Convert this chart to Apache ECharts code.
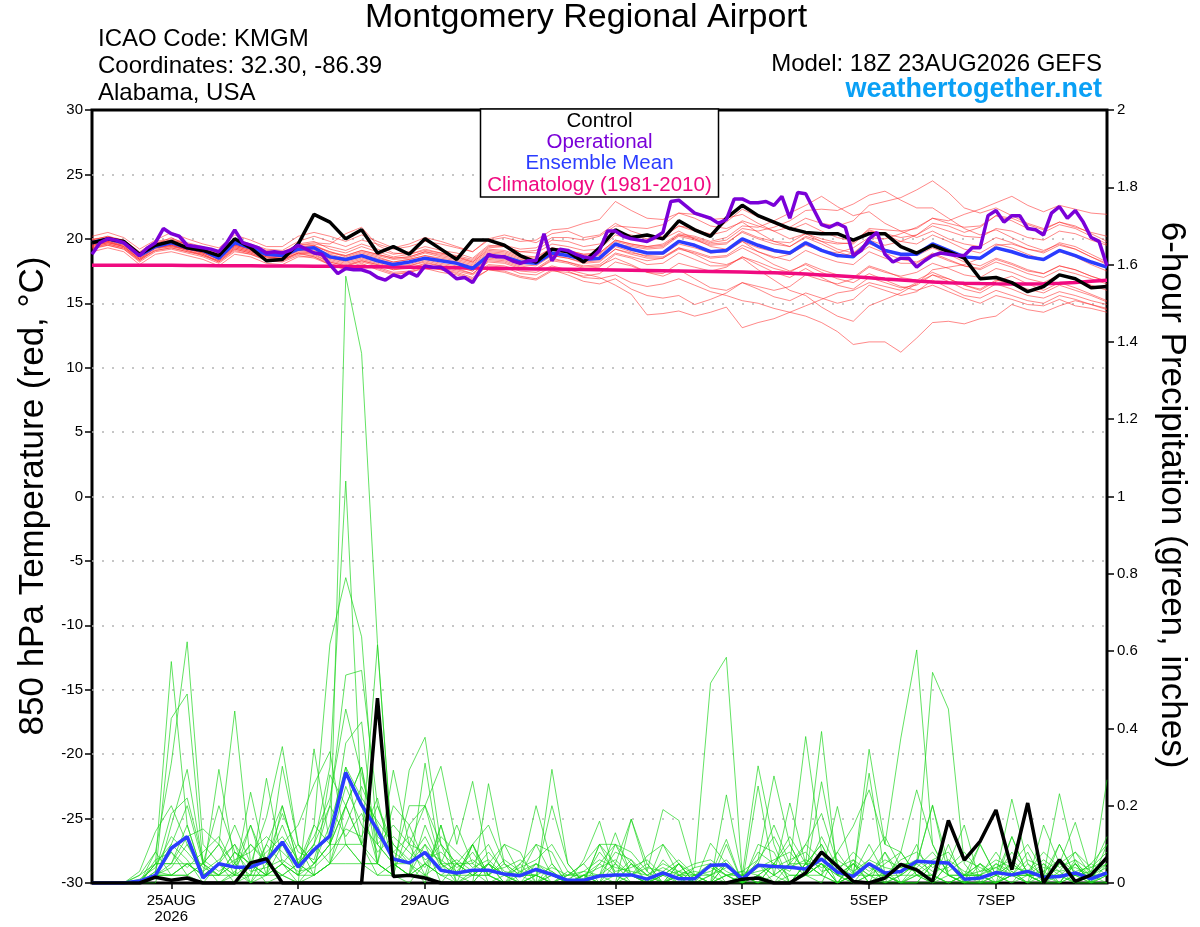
<!DOCTYPE html>
<html><head><meta charset="utf-8">
<script src="https://cdn.jsdelivr.net/npm/echarts@6/dist/echarts.min.js"></script>
<style>html,body{margin:0;padding:0;background:#fff}#c{width:1200px;height:927px}</style>
</head><body><div id="c"></div>
<script>
// ---------- axis / tick data ----------
const stepHours = 6;      // ensemble output interval
const opStepHours = 3;    // operational output interval
const xTickHours = [30, 78, 126, 198, 246, 294, 342];
const xTickLabels = ['25AUG\n2026', '27AUG', '29AUG', '1SEP', '3SEP', '5SEP', '7SEP'];

// ---------- 850 hPa temperature (deg C), 6-hourly from 18Z 23AUG ----------
const controlTemp = [19.7,20.0,19.8,18.8,19.5,19.8,19.3,19.1,18.7,20.0,
 19.3,18.3,18.4,19.6,21.9,21.3,20.0,20.7,18.9,19.4,
 18.8,20.0,19.2,18.4,19.9,19.9,19.5,18.7,18.2,19.2,
 19.0,18.2,19.3,20.7,20.1,20.3,20.0,21.4,20.7,20.2,
 21.6,22.6,21.8,21.3,20.8,20.5,20.4,20.4,19.9,20.4,
 20.4,19.4,18.9,19.5,19.0,18.5,16.9,17.0,16.6,15.9,
 16.3,17.2,16.9,16.2,16.3];
const meanTemp = [19.7,20.0,19.7,18.7,19.4,19.7,19.3,19.1,18.5,19.7,
 19.3,18.8,18.7,19.2,19.3,18.6,18.4,18.7,18.3,18.0,
 18.2,18.5,18.3,18.1,17.7,18.7,18.6,18.2,18.1,18.9,
 18.7,18.4,18.5,19.6,19.2,18.9,18.9,19.8,19.5,19.0,
 19.1,20.0,19.5,19.1,18.9,19.7,19.1,18.7,18.6,19.8,
 19.1,18.8,18.8,19.6,19.1,18.6,18.5,19.3,19.0,18.6,
 18.4,19.1,18.7,18.2,17.8];
const climoTemp = [17.95,17.95,17.95,17.95,17.94,17.94,17.93,17.93,17.92,17.92,17.91,17.9,17.9,17.89,17.88,17.87,17.86,
 17.84,17.83,17.81,17.8,17.78,17.76,17.75,17.73,17.72,17.7,17.68,17.66,17.65,17.63,17.61,17.6,
 17.58,17.56,17.54,17.52,17.5,17.48,17.46,17.44,17.42,17.39,17.36,17.32,17.27,17.2,17.13,17.05,
 16.97,16.88,16.8,16.72,16.65,16.6,16.56,16.53,16.51,16.5,16.5,16.52,16.56,16.62,16.7,16.78];
// operational run, 3-hourly
const operationalTemp = [18.8,19.7,20.0,19.9,19.7,19.2,18.7,19.3,19.7,20.8,
 20.4,20.2,19.5,19.4,19.3,19.2,19.0,19.7,20.7,19.7,
 19.5,19.3,18.9,19.0,18.9,19.1,19.5,19.2,18.9,18.8,
 18.0,17.3,17.7,17.6,17.6,17.4,17.0,16.8,17.2,17.0,
 17.4,17.1,17.9,17.8,17.8,17.4,16.9,17.0,16.6,17.6,
 18.8,18.6,18.6,18.3,18.1,18.3,18.3,20.4,18.3,19.2,
 19.1,18.8,18.6,18.5,19.1,20.6,20.6,20.2,20.0,19.9,
 19.8,20.1,20.5,22.9,23.0,22.5,22.0,21.8,21.6,21.2,
 21.5,23.1,23.1,22.8,22.8,22.9,22.6,23.3,21.6,23.6,
 23.5,22.3,21.1,20.9,21.2,20.9,18.7,19.1,20.0,20.5,
 18.8,18.2,18.5,18.5,17.8,18.3,18.7,18.9,18.8,18.7,
 18.7,19.3,19.3,21.8,22.2,21.3,21.8,21.8,20.8,20.7,
 20.3,22.0,22.5,21.6,22.2,21.3,20.1,19.8,17.9];

// ensemble members (temperature)
const memberT01 = [19.9,20.2,19.8,18.9,19.6,19.9,19.6,19.3,18.9,19.8, 19.5,19.0,18.9,19.6,19.8,19.2,18.9,19.4,19.0,18.6, 18.8,19.2,18.9,18.6,18.3,19.3,19.4,19.0,19.1,19.9, 19.8,19.4,19.6,20.5,20.3,20.0,20.2,21.0,20.8,20.3, 20.6,21.4,21.0,20.6,20.9,21.6,21.2,21.0,21.4,22.6, 22.9,23.2,23.8,24.5,23.6,22.4,22.0,22.4,21.8,21.2, 20.8,21.3,20.9,20.5,20.2];
const memberT02 = [19.2,19.5,19.2,18.2,19.0,19.2,18.9,18.6,18.1,19.0, 18.8,18.3,18.2,18.7,18.5,18.0,17.6,18.0,17.8,17.4, 17.5,17.9,17.6,17.4,17.0,17.9,17.8,17.3,17.2,17.8, 17.5,17.0,16.9,17.2,16.6,16.3,16.5,16.9,16.4,15.9, 15.6,15.2,15.0,14.6,14.3,14.0,13.5,12.8,11.8,12.0, 12.0,11.2,12.3,13.5,13.6,13.4,13.8,14.0,14.9,14.5, 14.3,14.8,15.2,14.9,14.6];
const memberT03 = [19.4,19.6,19.3,18.4,19.1,19.3,19.0,18.8,18.3,19.2, 18.9,18.5,18.4,18.9,18.8,18.2,17.9,18.2,17.9,17.6, 17.8,18.0,17.7,17.5,17.2,18.0,17.9,17.5,17.4,17.9, 17.6,17.3,17.0,16.4,15.7,14.1,14.2,14.4,14.0,14.3, 14.7,13.1,13.5,13.8,14.3,14.8,15.3,15.8,16.0,16.6, 16.3,16.0,16.6,17.2,16.9,16.4,16.0,16.7,17.1,16.5, 16.0,16.6,16.2,15.7,15.2];
const memberT04 = [20.0,20.1,19.9,19.0,19.8,20.0,19.7,19.4,19.0,20.0, 19.6,19.2,19.1,19.8,20.2,19.8,19.4,19.9,19.6,19.2, 19.4,19.8,19.6,19.3,19.0,19.9,20.1,19.8,19.9,20.7, 20.8,21.2,21.5,22.9,22.2,21.6,21.5,22.0,21.6,21.0, 20.8,21.3,20.5,19.8,19.4,20.1,19.6,19.0,18.6,19.4, 18.9,18.4,18.2,18.8,18.3,17.9,17.6,18.2,17.8,17.3, 17.0,17.6,17.3,16.9,16.5];
const memberT05 = [19.7,19.9,19.6,18.7,19.5,19.7,19.4,19.1,18.7,19.6, 19.3,18.9,18.8,19.3,19.5,18.9,18.7,19.1,18.8,18.5, 18.6,19.0,18.8,18.6,18.2,19.2,19.1,18.7,18.6,19.3, 19.1,18.8,18.9,19.9,19.6,19.4,19.6,20.4,20.2,19.8, 20.1,21.0,20.9,21.4,22.0,22.6,23.3,22.5,21.8,22.1, 21.2,20.6,20.1,20.6,20.0,19.6,19.4,20.1,19.7,19.2, 18.9,19.5,19.2,18.6,18.1];
const memberT06 = [19.5,19.7,19.5,18.6,19.3,19.5,19.2,18.9,18.5,19.4, 19.1,18.7,18.6,19.1,19.0,18.5,18.3,18.6,18.3,18.0, 18.2,18.5,18.3,18.1,17.8,18.6,18.5,18.2,18.1,18.7, 18.5,18.2,18.3,19.2,18.9,18.7,18.8,19.6,19.3,18.9, 19.0,19.8,19.3,19.0,18.8,19.5,19.1,18.9,19.3,20.1, 20.0,20.4,20.9,21.6,21.4,21.9,22.3,22.8,23.3,22.6, 22.1,22.6,22.3,22.0,21.9];
const memberT07 = [19.3,19.6,19.3,18.3,19.2,19.4,19.1,18.8,18.2,19.2, 18.9,18.4,18.3,18.9,18.9,18.4,18.1,18.4,18.1,17.8, 17.9,18.3,18.0,17.8,17.5,18.4,18.3,17.9,17.7,18.5, 18.2,17.8,17.9,18.5,18.0,17.4,17.1,17.6,16.9,16.2, 16.0,16.6,16.1,15.5,15.2,15.8,15.4,15.0,15.3,16.4, 16.0,15.6,15.9,16.8,16.2,15.6,15.4,16.0,15.6,15.2, 15.0,15.6,15.3,14.9,14.5];
const memberT08 = [19.8,20.0,19.7,18.8,19.6,20.1,19.5,19.2,18.8,19.7, 19.4,19.0,18.9,19.5,19.6,19.4,19.1,19.6,19.2,18.8, 19.0,19.4,19.1,18.9,18.5,19.5,19.4,19.0,18.9,19.6, 19.4,19.1,19.2,20.3,20.0,19.8,20.1,21.0,20.6,20.4, 21.3,22.3,21.7,21.2,20.7,21.2,20.6,20.1,19.8,20.7, 20.3,19.8,19.6,20.3,19.8,19.2,18.9,19.6,19.3,18.8, 18.4,19.0,18.6,18.0,17.5];
const memberT09 = [19.5,19.7,19.4,18.4,19.3,19.5,19.2,18.9,18.4,19.3, 19.0,18.6,18.5,19.0,18.9,18.3,18.0,18.3,18.0,17.7, 17.9,18.2,17.9,17.7,17.3,18.3,18.2,17.8,17.6,18.3, 18.1,17.7,17.8,18.8,18.5,18.0,18.1,18.9,18.4,17.9, 17.9,18.6,18.0,17.4,17.0,17.7,17.0,16.4,16.1,17.0, 16.6,16.2,16.4,17.2,16.7,16.1,15.8,16.5,16.1,15.6, 15.4,15.9,15.6,15.2,14.9];
const memberT10 = [19.6,19.9,19.6,18.6,19.4,19.6,19.3,19.1,18.6,19.5, 19.2,18.8,18.7,19.2,19.3,18.7,18.4,18.8,18.5,18.2, 18.4,18.7,18.5,18.3,18.0,18.9,18.8,18.4,18.3,19.1, 18.9,18.6,18.7,19.6,19.4,19.2,19.3,20.2,19.9,19.5, 19.6,20.6,20.1,19.8,19.7,20.4,20.0,19.7,19.6,20.6, 20.4,20.1,20.3,21.0,20.6,20.2,20.1,20.8,20.6,20.1, 19.9,20.6,20.4,19.9,19.5];
const memberT11 = [19.4,19.7,19.4,18.5,19.3,19.5,19.1,18.7,18.3,19.3, 19.0,18.6,18.4,18.9,18.6,18.1,17.7,17.9,17.7,17.3, 17.4,17.8,17.6,17.3,16.9,17.6,17.5,17.1,16.9,17.6, 17.2,16.7,16.5,16.9,16.1,15.6,15.4,15.6,14.9,15.3, 15.8,16.6,16.3,16.0,16.3,17.2,16.8,16.5,16.9,17.8, 17.4,17.1,17.4,18.1,17.7,17.2,17.0,17.7,17.4,16.9, 16.6,17.2,16.9,16.4,16.0];
const memberT12 = [19.9,20.2,19.9,18.9,19.7,19.9,19.6,19.3,18.9,19.9, 19.5,19.1,19.0,19.5,19.7,19.6,20.4,20.9,19.5,18.9, 18.8,19.1,18.9,18.7,18.4,19.4,19.5,19.2,19.3,20.1, 20.1,19.9,20.2,21.0,20.9,20.8,21.1,22.0,21.9,21.5, 21.6,21.9,21.2,20.6,20.0,20.4,19.8,19.2,18.9,19.6, 19.2,18.8,18.7,19.3,18.8,18.2,17.9,18.5,18.1,17.6, 17.3,17.9,17.6,17.1,16.7];
const memberT13 = [19.6,19.8,19.5,18.5,19.4,19.6,19.3,19.0,18.5,19.5, 19.2,18.7,18.6,19.2,19.1,18.6,18.3,18.7,18.4,18.1, 18.2,18.5,18.3,18.1,17.7,18.7,18.6,18.2,18.1,18.9, 18.7,18.4,18.5,19.6,19.1,18.9,18.9,19.8,19.5,19.0, 19.1,20.0,19.5,19.1,18.9,19.7,19.1,18.7,18.6,19.8, 19.1,18.8,18.8,19.6,19.1,18.6,18.5,19.3,19.0,18.6, 18.4,19.1,18.7,18.2,17.8];
const memberT14 = [19.3,19.5,19.2,18.3,19.1,19.3,19.0,18.7,18.2,19.1, 18.8,18.4,18.3,18.8,18.7,18.2,17.9,18.3,18.0,17.6, 17.7,18.1,17.9,17.6,17.3,18.2,18.1,17.7,17.6,18.4, 18.2,17.9,18.0,18.9,18.6,18.3,18.5,19.2,18.9,18.5, 18.6,19.3,18.7,18.0,17.5,18.0,17.4,16.9,16.6,17.3, 16.8,16.3,16.0,16.4,15.9,15.4,15.0,15.6,15.3,14.9, 14.8,15.3,14.8,14.6,14.3];
const memberT15 = [19.7,19.9,19.6,18.7,19.5,19.7,19.4,19.1,18.7,19.6, 19.3,18.9,18.8,19.3,19.4,19.0,18.6,19.0,18.7,18.4, 18.5,18.9,18.6,18.4,18.1,19.0,18.9,18.5,18.4,19.2, 19.0,18.7,18.8,19.8,19.5,19.3,19.4,20.3,20.0,19.6, 19.7,20.5,20.0,19.6,19.4,20.2,19.8,19.6,19.7,20.8, 20.7,20.6,20.8,21.6,21.2,20.9,21.0,21.8,21.6,21.1, 20.7,21.3,21.0,20.4,19.8];
const memberT16 = [19.5,19.8,19.4,18.4,19.3,19.4,19.2,18.9,18.4,19.4, 19.1,18.6,18.5,19.1,19.0,18.5,18.2,18.5,18.2,17.9, 18.0,18.4,18.1,17.9,17.5,18.5,18.4,18.0,17.9,18.7, 18.5,18.1,18.2,19.2,18.8,18.5,18.5,19.3,19.0,18.6, 18.7,19.5,19.0,18.6,18.3,19.1,18.6,18.2,18.0,19.0, 18.5,18.1,18.1,18.9,18.4,17.9,17.7,18.4,18.0,17.5, 17.3,17.9,17.6,17.1,16.7];
const memberT17 = [19.6,19.8,19.6,18.6,19.4,19.6,19.3,19.0,18.6,19.5, 19.2,18.8,18.7,19.2,19.3,18.8,18.5,18.9,18.6,18.2, 18.4,18.7,18.4,18.2,17.9,18.8,18.7,18.3,18.2,18.9, 18.7,18.3,18.4,19.4,19.0,18.6,18.6,19.3,18.8,18.2, 18.0,18.5,17.6,16.8,16.0,15.6,14.7,14.0,13.6,14.8, 15.3,15.8,16.5,17.6,17.8,18.0,18.5,19.5,19.6,19.2, 19.0,19.7,19.4,18.8,18.2];
const memberT18 = [19.8,20.0,19.7,18.8,19.6,19.8,19.5,19.2,18.8,19.7, 19.4,19.0,18.9,19.4,19.5,19.0,18.7,19.1,18.8,18.5, 18.6,19.0,18.7,18.5,18.2,19.1,19.0,18.6,18.5,19.3, 19.1,18.8,18.9,19.9,19.6,19.4,19.5,20.3,20.1,19.7, 19.9,20.8,20.6,20.9,21.4,22.2,22.3,22.2,22.7,23.4, 23.7,23.0,22.4,22.4,21.6,20.8,20.3,20.7,20.1,19.5, 19.1,19.6,19.2,18.6,18.0];
const memberT19 = [20.2,20.5,20.1,19.2,19.9,20.5,20.0,19.6,19.3,20.3, 19.9,19.4,19.4,20.2,20.5,20.2,19.8,20.3,19.8,19.3, 19.6,20.1,19.8,19.4,19.0,20.0,20.3,20.0,19.7,20.4, 20.6,20.1,20.3,21.2,20.6,20.2,20.0,20.6,20.0,19.4, 19.2,19.8,19.0,18.5,18.8,19.6,19.2,18.6,18.9,19.9, 19.5,19.8,20.3,21.2,21.0,20.5,20.9,21.8,21.4,20.8, 20.5,21.1,20.8,20.2,19.6];
const memberT20 = [19.0,19.3,19.0,18.0,18.8,19.0,18.7,18.4,17.9,18.8, 18.6,18.1,18.0,18.6,18.6,18.0,17.7,18.1,17.6,17.2, 17.4,17.7,17.4,17.2,16.8,17.6,17.4,17.0,16.8,17.5, 17.4,17.1,17.3,18.2,17.9,17.4,17.3,18.1,17.8,17.5, 17.8,18.6,18.2,17.7,17.4,18.1,17.6,17.2,17.0,17.9, 17.5,17.0,16.8,17.4,16.9,16.4,16.1,16.8,16.5,16.1, 15.8,16.4,16.0,15.6,15.1];

// ---------- 6-hour precipitation (inches) ----------
const controlPrecip = [0,0,0,0,0.015,0.007,0.013,0,0,0, 0.052,0.063,0,0,0,0,0,0,0.478,0.017, 0.020,0.013,0,0,0,0,0,0,0,0, 0,0,0,0,0,0,0,0,0,0, 0,0.010,0.013,0,0,0.026,0.080,0.043,0.004,0, 0.013,0.048,0.034,0.004,0.162,0.059,0.108,0.189,0.035,0.207, 0,0.060,0.004,0.021,0.066];
const meanPrecip = [0,0,0,0.005,0.020,0.090,0.120,0.013,0.050,0.041, 0.041,0.058,0.106,0.041,0.086,0.122,0.286,0.202,0.137,0.062, 0.052,0.079,0.033,0.026,0.033,0.033,0.023,0.019,0.035,0.022, 0.007,0.007,0.018,0.021,0.021,0.010,0.026,0.011,0.011,0.046, 0.047,0.010,0.046,0.043,0.041,0.036,0.062,0.028,0.017,0.050, 0.026,0.030,0.056,0.054,0.052,0.010,0.013,0.027,0.021,0.030, 0.015,0.017,0.026,0.011,0.026];

const memberP01 = [0,0,0,0,0.02,0.10,0.06,0,0,0.03,0,0.05,0.02, 0,0.02,0.05,1.57,1.37,0.62,0.05,0.02,0.10,0,0,0.03,0, 0,0,0.02,0,0,0,0.05,0.02,0,0,0.03,0,0, 0,0.05,0,0.02,0,0,0.05,0.10,0.02,0,0,0.03,0, 0,0.05,0.02,0,0,0,0.03,0,0,0.05,0.02,0,0.03];
const memberP02 = [0,0,0,0.02,0.08,0.31,0.624,0.10,0.05,0,0.02,0.10,0.20, 0.05,0.10,0.30,1.04,0.20,0.05,0.02,0,0.05,0.10,0,0,0.05, 0,0,0,0.02,0,0,0.10,0.05,0,0,0.02,0.05,0, 0,0,0.02,0.303,0.10,0,0.05,0.02,0,0.06,0,0,0, 0.05,0.20,0.05,0,0,0.02,0.05,0.02,0,0,0.05,0,0.10];
const memberP03 = [0,0,0,0,0.05,0.573,0.15,0.02,0.05,0.10,0,0.02,0.10, 0.02,0.15,0.618,0.79,0.637,0.10,0.05,0.02,0.15,0.05,0,0.10,0.02, 0,0.03,0.05,0,0,0,0,0.02,0.06,0,0,0.03,0, 0,0.10,0,0.05,0.02,0.05,0.379,0.08,0,0.02,0.10,0.02,0, 0,0,0.05,0.15,0,0,0.02,0.08,0,0,0.06,0,0];
const memberP04 = [0,0,0,0,0.02,0.426,0.489,0.05,0,0.02,0.15,0.05,0.02, 0.05,0.10,0.20,0.538,0.55,0.20,0.08,0.05,0,0.15,0,0,0.257, 0.05,0,0.02,0,0.03,0,0,0,0.05,0.02,0,0.02,0.04, 0.517,0.584,0.02,0,0.05,0,0.02,0.05,0,0.05,0,0.08,0, 0.03,0,0,0.02,0,0,0.05,0.02,0,0.03,0,0,0.05];
const memberP05 = [0,0,0,0.03,0.133,0.20,0.10,0.02,0.294,0.05,0,0.10,0.05, 0,0.347,0.10,0.362,0.417,0.05,0.292,0.10,0.02,0,0.05,0.10,0, 0.02,0,0,0.05,0,0.02,0,0.10,0.02,0,0,0.05,0, 0.05,0.02,0,0.06,0.277,0.10,0.02,0.262,0.05,0,0.02,0,0.08, 0.241,0.10,0.02,0,0,0.05,0.03,0,0.02,0.231,0.05,0,0.02];
const memberP06 = [0,0,0,0,0,0.15,0.294,0.05,0.20,0.08,0.05,0.02,0.302, 0.10,0.02,0.28,0.20,0.10,0.616,0.05,0.02,0.31,0.05,0.02,0,0.05, 0,0.02,0,0.03,0,0,0.02,0.13,0.02,0,0.06,0.02,0, 0.103,0.05,0,0.02,0.05,0.10,0.02,0,0.08,0.02,0.346,0.10,0.375, 0.603,0.10,0.02,0,0.05,0,0.02,0,0.05,0.02,0,0,0.267];
const memberP07 = [0,0,0,0,0.05,0.05,0.12,0.14,0.10,0.445,0.05,0,0.02, 0,0.05,0.10,0.20,0.30,0.05,0.02,0.292,0.377,0.10,0.05,0.02,0.05, 0.10,0.02,0.02,0.20,0.05,0,0.02,0,0.165,0.05,0,0.05,0.02, 0,0.228,0.02,0.05,0.15,0.05,0.10,0.18,0.05,0,0.05,0,0.02, 0.05,0.545,0.45,0.05,0,0.02,0.05,0.10,0.03,0,0.02,0,0];
const memberP08 = [0,0,0,0,0.03,0.02,0.05,0.02,0.05,0.02,0.235,0.05,0.10, 0.15,0.256,0.34,0.10,0.05,0.05,0.02,0.15,0.05,0.02,0.02,0.10,0.02, 0.10,0.08,0,0.294,0.05,0,0.02,0.05,0.165,0.03,0.19,0.162,0.02, 0.02,0.113,0,0.251,0.02,0,0.05,0.392,0.02,0.05,0.02,0.05,0.08, 0.02,0,0.10,0,0.10,0.02,0.217,0.05,0,0.10,0.02,0.03,0.05];
const memberP09 = [0,0,0,0,0.02,0.02,0.05,0.02,0.02,0.05,0.02,0.271,0.05, 0.02,0.05,0.10,0.20,0.30,0.10,0.05,0.20,0.20,0.302,0.10,0.263,0.05, 0.02,0.02,0.20,0.05,0,0.06,0.16,0.02,0,0,0.02,0,0.04, 0.05,0.02,0,0.05,0.02,0.207,0.05,0.02,0.198,0.02,0.05,0,0.02, 0.05,0.202,0.02,0,0.02,0.08,0.02,0,0.15,0.05,0.157,0.02,0];
const memberP10 = [0,0,0,0,0.02,0.05,0.05,0.05,0.10,0.02,0.05,0.17,0.353, 0.10,0.05,0.10,0.10,0.10,0.05,0.20,0.15,0.20,0.05,0.15,0.05,0.02, 0,0.05,0.10,0.02,0,0.02,0,0.05,0.02,0,0.10,0.02,0, 0.02,0.05,0,0.05,0,0.05,0.05,0.05,0,0.02,0.284,0.02,0, 0,0.05,0.05,0.02,0.02,0,0.02,0.02,0.02,0.10,0.02,0.05,0.10];
const memberP11 = [0,0,0,0,0.02,0.02,0.02,0.05,0.02,0.08,0.05,0.02,0.20, 0.05,0.02,0.05,0.20,0.10,0.02,0.05,0.05,0.02,0.15,0.02,0.10,0.15, 0.05,0.02,0.10,0.08,0,0,0.10,0.10,0.08,0.03,0,0.02,0, 0.02,0,0,0.02,0.05,0.12,0.05,0.02,0.08,0.147,0.241,0.10,0.08, 0.02,0,0.05,0.02,0.10,0.02,0.12,0.02,0,0.05,0.08,0.02,0.02];
const memberP12 = [0,0,0,0,0.08,0.02,0.02,0,0.05,0.02,0.02,0.02,0.02, 0.05,0.02,0.05,0.10,0.05,0.02,0.02,0.02,0.05,0.02,0,0.02,0.05, 0.02,0,0,0.02,0.02,0.05,0.10,0.02,0.02,0.07,0.10,0.05,0, 0,0.02,0.03,0.02,0,0.02,0.02,0.05,0.02,0,0.02,0.08,0.02, 0.02,0.02,0,0.02,0.02,0,0.12,0.02,0.02,0.02,0,0.02,0.05];
const memberP13 = [0,0,0,0,0.02,0.02,0.05,0.02,0.02,0.02,0.02,0.02,0.05, 0.02,0.02,0.05,0.05,0.05,0.05,0.02,0.02,0.02,0.05,0.02,0.02,0.02, 0,0,0.02,0,0,0.02,0.02,0.02,0.02,0,0,0.02,0.02, 0,0.02,0,0,0,0,0.02,0.02,0,0.02,0.02,0.02,0, 0.02,0.02,0,0,0.02,0,0.02,0.02,0,0.02,0.02,0.02,0.02];
const memberP14 = [0,0,0,0.02,0.05,0.10,0.20,0.05,0.10,0.05,0.10,0.05,0.15, 0.05,0.15,0.10,0.25,0.15,0.10,0.15,0.10,0.20,0.10,0.05,0.05,0.10, 0.02,0,0.05,0.02,0,0.02,0.05,0.10,0.05,0,0.02,0.05,0, 0,0.05,0,0.10,0.08,0,0.05,0.10,0.02,0.02,0.05,0.02,0.02, 0.10,0,0.02,0.02,0.05,0.02,0,0.02,0.05,0,0.02,0.05,0.02];
const memberP15 = [0,0,0,0,0.05,0.05,0.15,0.02,0.05,0.15,0.05,0.02,0.05, 0.10,0.05,0.15,0.30,0.10,0.20,0.10,0.05,0.10,0.05,0.05,0.02,0.05, 0.02,0.05,0,0,0.02,0.05,0,0,0.02,0.05,0,0,0.02, 0.05,0,0.02,0,0.05,0.02,0.02,0.05,0,0.05,0.02,0.02,0.05, 0.05,0.02,0,0.02,0.02,0.05,0.02,0.02,0.02,0.02,0.05,0,0.02];
const memberP16 = [0,0,0,0,0.02,0.08,0.02,0.05,0.02,0.05,0.15,0.02,0.05, 0.02,0.10,0.05,0.15,0.25,0.15,0.05,0.02,0.05,0.02,0.05,0.02,0.02, 0.05,0.02,0.02,0,0.02,0.02,0,0,0.05,0.02,0,0,0.02, 0,0.02,0.02,0,0.02,0.05,0.02,0.05,0.02,0.05,0,0.02,0, 0.02,0.05,0.02,0.02,0.05,0.02,0,0.05,0.02,0,0.05,0.02,0.02];
const memberP17 = [0,0,0,0.01,0.04,0.12,0.08,0.03,0.06,0.10,0.04,0.08,0.12, 0.06,0.12,0.22,0.45,0.28,0.12,0.08,0.12,0.06,0.08,0.04,0.06,0.03, 0.04,0.06,0.03,0.02,0.01,0.03,0.06,0.04,0.03,0.02,0.05,0.03,0.02, 0.03,0.06,0.01,0.08,0.05,0.03,0.10,0.06,0.03,0.08,0.04,0.02,0.06, 0.08,0.04,0.06,0.03,0.02,0.04,0.06,0.02,0.03,0.06,0.03,0.04,0.08];
const memberP18 = [0,0,0,0,0.03,0.18,0.22,0.06,0.03,0.06,0.08,0.12,0.08, 0.04,0.08,0.12,0.30,0.22,0.16,0.10,0.06,0.12,0.04,0.06,0.03,0.08, 0.03,0.02,0.05,0.03,0,0.02,0.04,0.06,0.02,0.04,0.03,0.06,0.02, 0.04,0.02,0.03,0.06,0.12,0.04,0.06,0.04,0.06,0.03,0.06,0.04,0.03, 0.04,0.08,0.03,0.06,0.04,0.02,0.08,0.03,0.06,0.03,0.04,0.02,0.04];
const memberP19 = [0,0,0,0,0.06,0.08,0.04,0.08,0.12,0.04,0.10,0.06,0.18, 0.08,0.06,0.20,0.12,0.18,0.08,0.12,0.08,0.04,0.12,0.08,0.04,0.06, 0.02,0.04,0.06,0.10,0.03,0.01,0.08,0.03,0.04,0.06,0.02,0.03,0.05, 0.06,0.03,0.01,0.04,0.06,0.08,0.03,0.12,0.04,0.02,0.06,0.12,0.04, 0.03,0.06,0.08,0.02,0.03,0.06,0.04,0.03,0.08,0.04,0.06,0.03,0.12];
const memberP20 = [0,0,0,0,0.02,0.04,0.10,0.04,0.02,0.08,0.03,0.04,0.06, 0.03,0.04,0.08,0.14,0.12,0.22,0.04,0.10,0.08,0.06,0.03,0.08,0.02, 0.06,0.03,0.02,0.04,0.02,0.03,0.02,0.08,0.06,0.02,0.04,0.02,0.03, 0.02,0.04,0.02,0.03,0.04,0.06,0.08,0.03,0.04,0.06,0.03,0.06,0.04, 0.06,0.03,0.04,0.08,0.03,0.04,0.02,0.06,0.04,0.03,0.08,0.04,0.06];

// ---------- colours ----------
const COL_CONTROL = '#000000';
const COL_OPER = '#7a00d8';
const COL_MEAN = '#2a3cff';
const COL_CLIMO = '#f00a80';
const COL_MEMBER_T = '#ff2a2a';
const COL_MEMBER_P = '#18d418';

const tempMembers = [memberT01,memberT02,memberT03,memberT04,memberT05,memberT06,memberT07,memberT08,memberT09,memberT10,memberT11,memberT12,memberT13,memberT14,memberT15,memberT16,memberT17,memberT18,memberT19,memberT20];
const precipMembers = [memberP01,memberP02,memberP03,memberP04,memberP05,memberP06,memberP07,memberP08,memberP09,memberP10,memberP11,memberP12,memberP13,memberP14,memberP15,memberP16,memberP17,memberP18,memberP19,memberP20];

function toPoints(arr, step) { return arr.map((v, i) => [i * step, v]); }

const series = [];
tempMembers.forEach((m, k) => series.push({
  type: 'line', name: 'T member ' + (k + 1), yAxisIndex: 0, data: toPoints(m, stepHours),
  showSymbol: false, silent: true, z: 1,
  lineStyle: { color: COL_MEMBER_T, width: 0.8, opacity: 0.7 }
}));
precipMembers.forEach((m, k) => series.push({
  type: 'line', name: 'P member ' + (k + 1), yAxisIndex: 1, data: toPoints(m, stepHours),
  showSymbol: false, silent: true, z: 1,
  lineStyle: { color: COL_MEMBER_P, width: 0.8, opacity: 0.85 }
}));
function thick(name, arr, step, axis, color, z) {
  return { type: 'line', name, yAxisIndex: axis, data: toPoints(arr, step), showSymbol: false,
    silent: true, z, lineStyle: { color, width: 3.5 } };
}
series.push(thick('Climatology (1981-2010)', climoTemp, stepHours, 0, COL_CLIMO, 3));
series.push(thick('Ensemble Mean', meanTemp, stepHours, 0, COL_MEAN, 4));
series.push(thick('Control', controlTemp, stepHours, 0, COL_CONTROL, 5));
series.push(thick('Operational', operationalTemp, opStepHours, 0, COL_OPER, 6));
series.push(thick('Ensemble Mean precip', meanPrecip, stepHours, 1, COL_MEAN, 4));
series.push(thick('Control precip', controlPrecip, stepHours, 1, COL_CONTROL, 5));

const FONT = '"Liberation Sans", Arial, Helvetica, sans-serif';
function txt(text, x, y, size, align, color, weight, extra) {
  return Object.assign({ type: 'text', x, y, z: 100, silent: true,
    style: { text, fontFamily: FONT, fontSize: size, fontWeight: weight || 'normal', fill: color || '#000',
      align: align, textAlign: align, verticalAlign: 'middle', textVerticalAlign: 'middle' } }, extra || {});
}

const chart = echarts.init(document.getElementById('c'), null, { renderer: 'canvas' });
chart.setOption({
  animation: false,
  backgroundColor: '#ffffff',
  grid: { left: 92, right: 93, top: 110, bottom: 44, show: true, borderColor: '#000', borderWidth: 3, backgroundColor: 'transparent' },
  xAxis: {
    type: 'value', min: 0, max: 384,
    axisLine: { show: false, onZero: false },
    splitLine: { show: false },
    axisTick: { show: true, customValues: xTickHours, length: 6, lineStyle: { color: '#000', width: 1.5 } },
    axisLabel: { customValues: xTickHours, color: '#000', fontFamily: FONT, fontSize: 15, margin: 10, lineHeight: 16,
      formatter: v => xTickLabels[xTickHours.indexOf(v)] || '' }
  },
  yAxis: [
    { type: 'value', min: -30, max: 30, interval: 5, position: 'left',
      axisLine: { show: false },
      axisTick: { show: true, length: 7, lineStyle: { color: '#000', width: 1.5 } },
      axisLabel: { color: '#000', fontFamily: FONT, fontSize: 15, margin: 9 },
      splitLine: { show: true, showMinLine: false, showMaxLine: false, lineStyle: { color: '#b4b4b4', width: 1.5, type: [2, 8] } } },
    { type: 'value', min: 0, max: 2, interval: 0.2, position: 'right',
      axisLine: { show: false },
      axisTick: { show: true, length: 7, lineStyle: { color: '#000', width: 1.5 } },
      axisLabel: { color: '#000', fontFamily: FONT, fontSize: 15, margin: 10, formatter: v => String(+v.toFixed(1)) },
      splitLine: { show: false } }
  ],
  graphic: [
    txt('Montgomery Regional Airport', 586, 18, 34, 'center'),
    txt('ICAO Code: KMGM', 98, 39, 24, 'left'),
    txt('Coordinates: 32.30, -86.39', 98, 66, 24, 'left'),
    txt('Alabama, USA', 98, 93, 24, 'left'),
    txt('Model: 18Z 23AUG2026 GEFS', 1102, 64, 24, 'right'),
    txt('weathertogether.net', 1102, 90, 27, 'right', '#0aa0f5', 'bold'),
    { type: 'rect', z: 99, silent: true, shape: { x: 480.5, y: 109, width: 238, height: 88 },
      style: { fill: '#fff', stroke: '#000', lineWidth: 1.5 } },
    txt('Control', 599.5, 121, 20.5, 'center', COL_CONTROL),
    txt('Operational', 599.5, 142, 20.5, 'center', COL_OPER),
    txt('Ensemble Mean', 599.5, 163, 20.5, 'center', COL_MEAN),
    txt('Climatology (1981-2010)', 599.5, 185, 20.5, 'center', COL_CLIMO),
    txt('850 hPa Temperature (red, \u00B0C)', 33, 496, 35, 'center', '#000', 'normal', { rotation: Math.PI / 2 }),
    txt('6-hour Precipitation (green, inches)', 1172, 495, 35, 'center', '#000', 'normal', { rotation: -Math.PI / 2 })
  ],
  series
});
</script>
</body></html>
